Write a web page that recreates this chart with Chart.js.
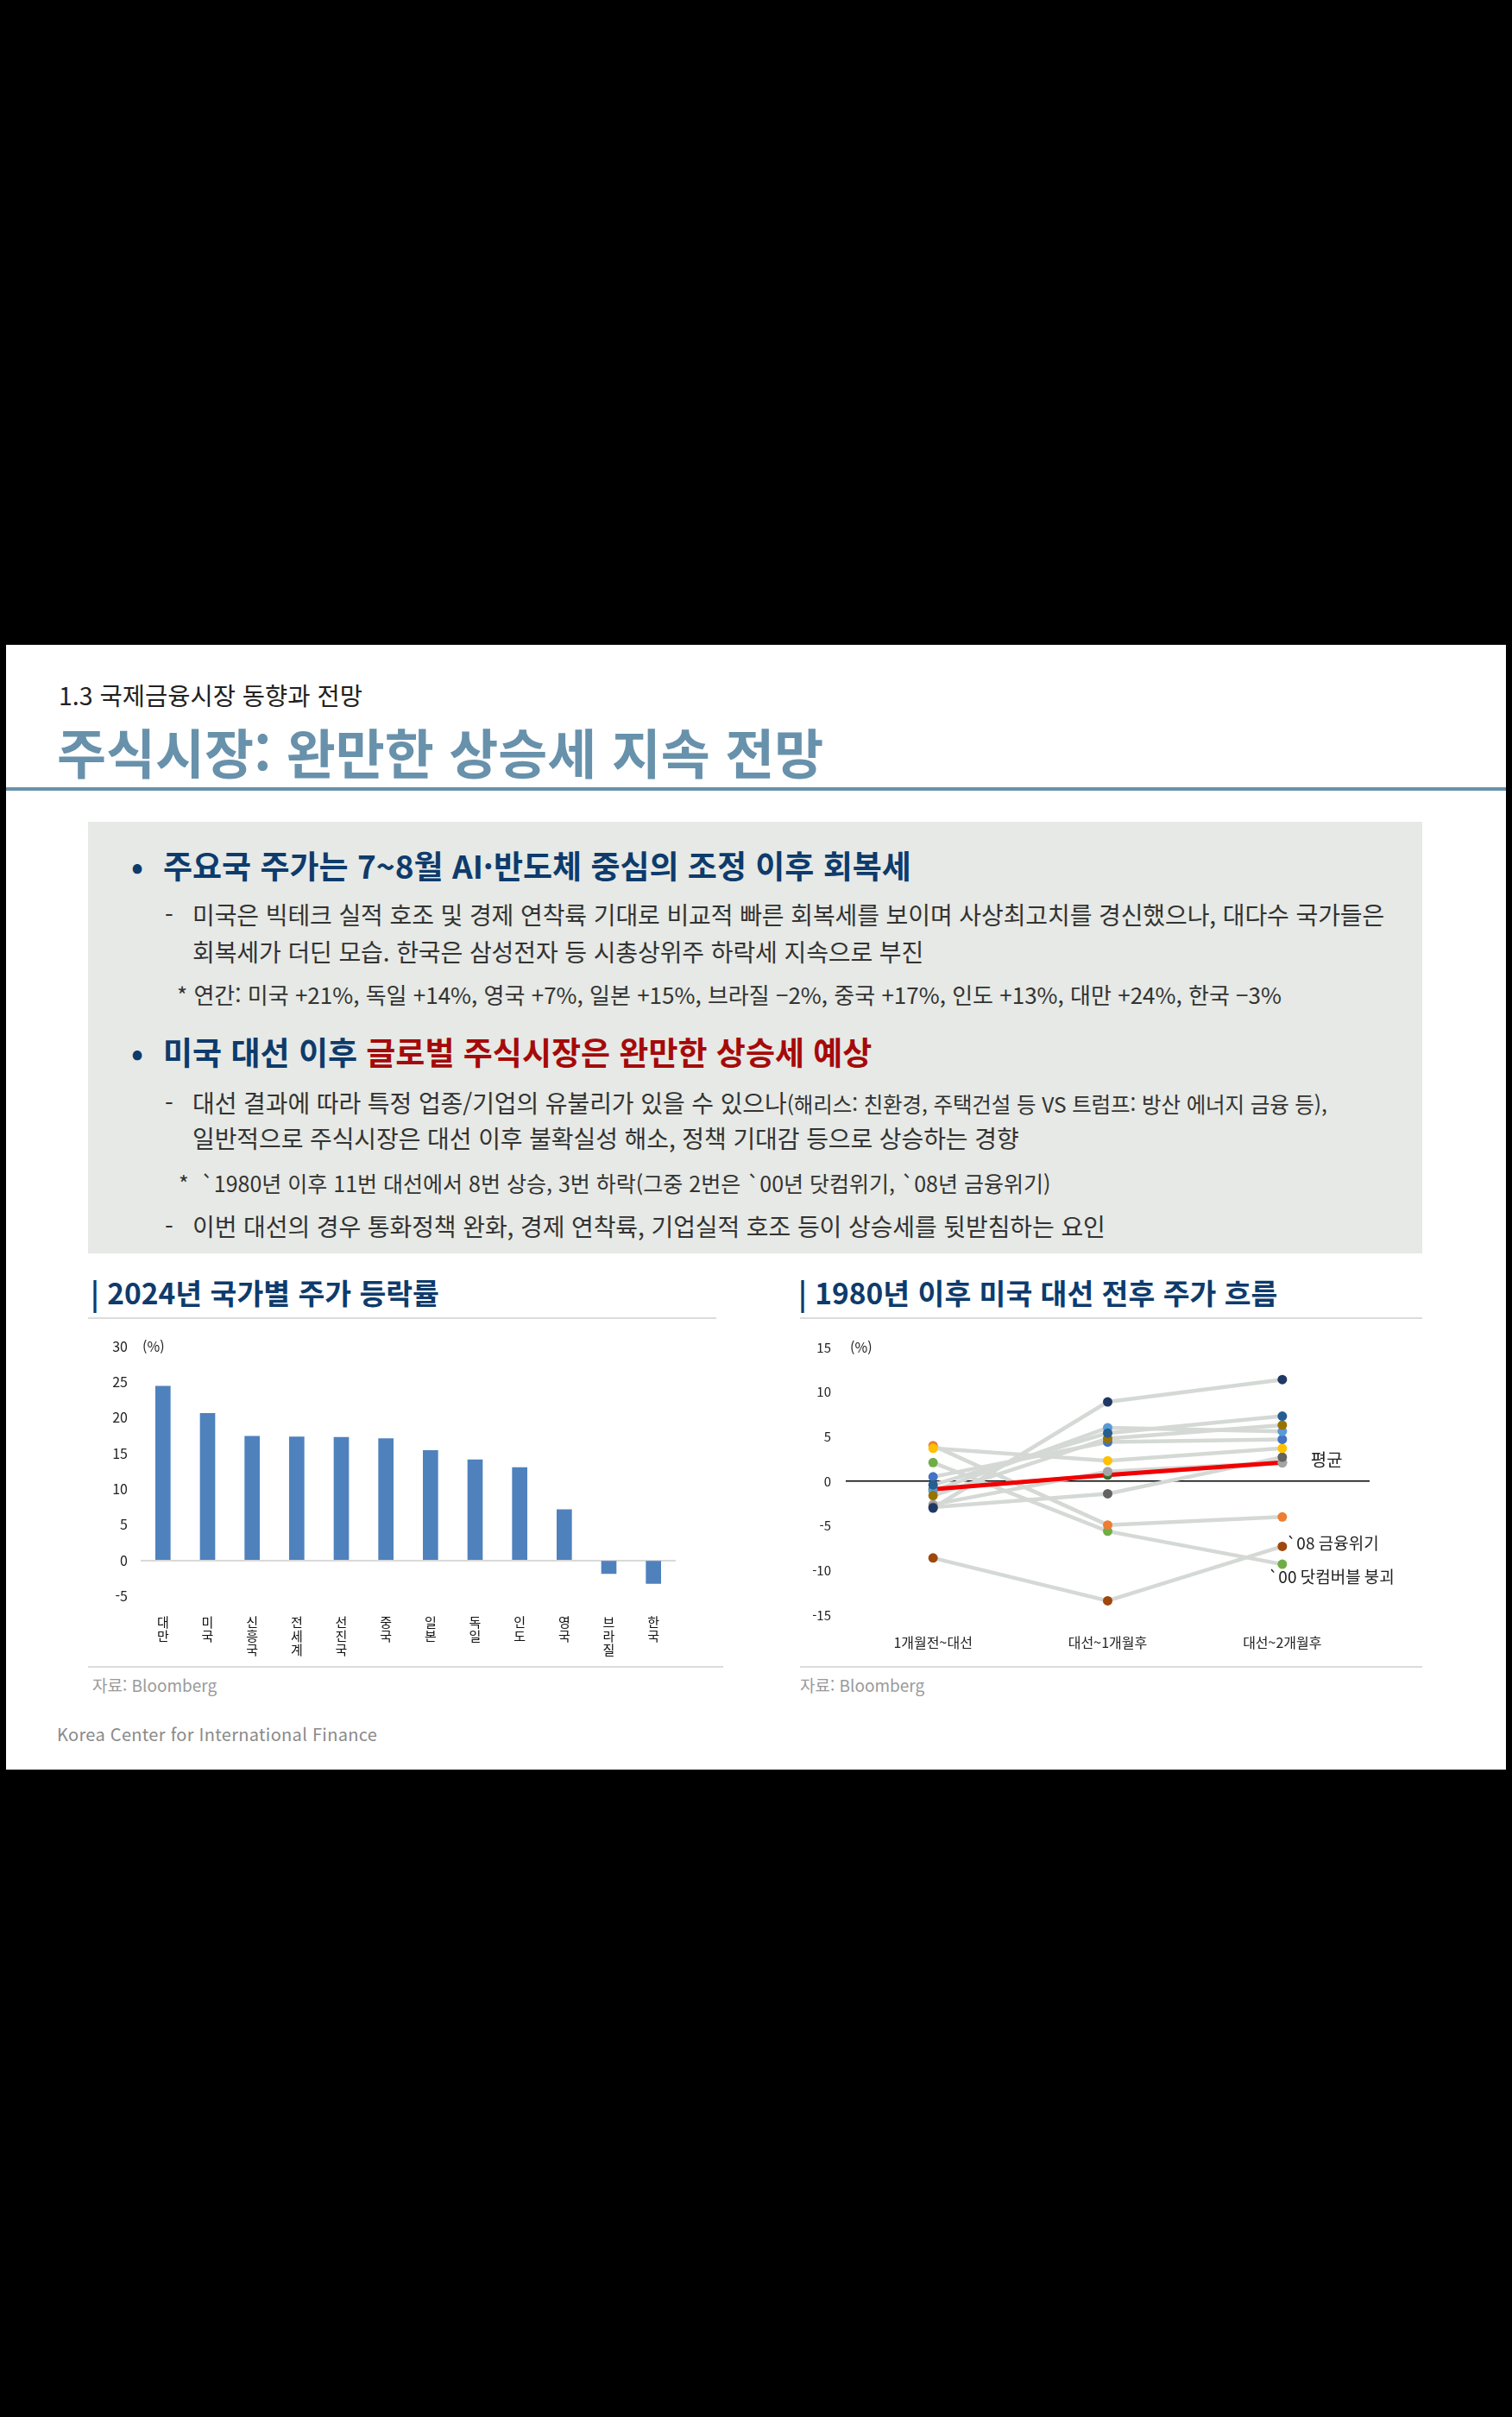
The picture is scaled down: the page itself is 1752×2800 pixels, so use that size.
<!DOCTYPE html>
<html lang="ko">
<head>
<meta charset="utf-8">
<script src="https://cdn.jsdelivr.net/npm/chart.js@4.4.1/dist/chart.umd.min.js"></script>
<style>
  body { margin: 0; width: 1752px; height: 2800px; background: #000; position: relative; overflow: hidden;
         font-family: "Noto Sans CJK KR", "Noto Sans", sans-serif; }
  .slide { position: absolute; left: 7px; top: 747px; width: 1738px; height: 1303px; background: #fff; }
  .t { position: absolute; white-space: nowrap; }
  .navy { color: #0e3b6c; }
  .red { color: #a50a0a; }
  .body { color: #333; font-size: 28px; line-height: 34px; letter-spacing: -0.1px; }
  .note { color: #333; font-size: 26px; line-height: 32px; }
  .small { font-size: 24.5px; }
  .bul { font-size: 37px; line-height: 44px; font-weight: 700; }
  .head { font-size: 33.5px; line-height: 42px; font-weight: 700; color: #0e3b6c; }
  .src { font-size: 19px; line-height: 24px; color: #9a9a9a; }
  canvas { position: absolute; }
</style>
</head>
<body>
<div class="slide"></div>

<div class="t" style="left:68px; top:787px; font-size:28.5px; line-height:36px; color:#222;">1.3 국제금융시장 동향과 전망</div>
<div class="t" style="left:66px; top:832px; font-size:62px; line-height:76px; font-weight:700; color:#6891ab;">주식시장: 완만한 상승세 지속 전망</div>
<div style="position:absolute; left:7px; top:912px; width:1738px; height:4px; background:#6891ab;"></div>

<div style="position:absolute; left:102px; top:952px; width:1546px; height:500px; background:#e6e9e5;"></div>

<div class="t navy bul" style="left:152px; top:980px;">•</div>
<div class="t navy bul" style="left:189px; top:980px;">주요국 주가는 7~8월 AI·반도체 중심의 조정 이후 회복세</div>
<div class="t body" style="left:191px; top:1042px;">-</div>
<div class="t body" style="left:223px; top:1042px;">미국은 빅테크 실적 호조 및 경제 연착륙 기대로 비교적 빠른 회복세를 보이며 사상최고치를 경신했으나, 대다수 국가들은</div>
<div class="t body" style="left:223px; top:1085px;">회복세가 더딘 모습. 한국은 삼성전자 등 시총상위주 하락세 지속으로 부진</div>
<div class="t note" style="left:205px; top:1136px;">* 연간: 미국 +21%, 독일 +14%, 영국 +7%, 일본 +15%, 브라질 −2%, 중국 +17%, 인도 +13%, 대만 +24%, 한국 −3%</div>

<div class="t navy bul" style="left:152px; top:1196px;">•</div>
<div class="t bul" style="left:189px; top:1196px;"><span class="navy">미국 대선 이후 </span><span class="red">글로벌 주식시장은 완만한 상승세 예상</span></div>
<div class="t body" style="left:191px; top:1260px;">-</div>
<div class="t body" style="left:223px; top:1260px;">대선 결과에 따라 특정 업종/기업의 유불리가 있을 수 있으나<span class="small">(해리스: 친환경, 주택건설 등 VS 트럼프: 방산 에너지 금융 등),</span></div>
<div class="t body" style="left:223px; top:1301px;">일반적으로 주식시장은 대선 이후 불확실성 해소, 정책 기대감 등으로 상승하는 경향</div>
<div class="t note" style="left:207px; top:1354px; font-size:25px;">*&nbsp; `1980년 이후 11번 대선에서 8번 상승, 3번 하락(그중 2번은 `00년 닷컴위기, `08년 금융위기)</div>
<div class="t body" style="left:191px; top:1403px;">-</div>
<div class="t body" style="left:223px; top:1403px;">이번 대선의 경우 통화정책 완화, 경제 연착륙, 기업실적 호조 등이 상승세를 뒷받침하는 요인</div>

<div class="t head" style="left:105px; top:1476px;">| 2024년 국가별 주가 등락률</div>
<div style="position:absolute; left:102px; top:1526px; width:728px; height:2px; background:#dcdcdc;"></div>
<div class="t head" style="left:925px; top:1476px;">| 1980년 이후 미국 대선 전후 주가 흐름</div>
<div style="position:absolute; left:927px; top:1526px; width:721px; height:2px; background:#dcdcdc;"></div>

<canvas id="barChart" width="738" height="390" style="left:102px; top:1535px;"></canvas>
<canvas id="lineChart" width="721" height="390" style="left:927px; top:1535px;"></canvas>

<div style="position:absolute; left:102px; top:1930px; width:736px; height:2px; background:#dcdcdc;"></div>
<div style="position:absolute; left:927px; top:1930px; width:721px; height:2px; background:#dcdcdc;"></div>
<div class="t src" style="left:107px; top:1940px;">자료: Bloomberg</div>
<div class="t src" style="left:927px; top:1940px;">자료: Bloomberg</div>

<div class="t" style="left:66px; top:1996px; font-size:20px; line-height:26px; color:#8a8a8a; letter-spacing:0.3px;">Korea Center for International Finance</div>

<script>
// 2024 country returns (%)
const countryNames = ['대만', '미국', '신흥국', '전세계', '선진국', '중국', '일본', '독일', '인도', '영국', '브라질', '한국'];
const returns2024 = [24.4, 20.6, 17.4, 17.3, 17.25, 17.05, 15.4, 14.1, 13.0, 7.1, -1.85, -3.25];
const barTicks = { min: -5, max: 30, step: 5 };

// stock moves around US elections since 1980 (%)
const periods = ['1개월전~대선', '대선~1개월후', '대선~2개월후'];
const pathNavy      = [-3.0, 8.9, 11.4];
const pathTeal      = [-0.4, 5.4, 7.3];
const pathGold      = [-1.6, 4.8, 6.3];
const pathLightBlue = [-1.1, 6.0, 5.6];
const pathBlue      = [0.5, 4.4, 4.7];
const pathYellow    = [3.7, 2.3, 3.7];
const pathDarkGray  = [-2.9, -1.4, 2.7];
const pathGray      = [-2.6, 1.1, 2.1];
const pathDarkGreen = [-0.9, 0.7, 2.1];
const pathOrange    = [4.0, -4.9, -4.0];
const pathGfc08     = [-8.6, -13.4, -7.3];
const pathDotcom00  = [2.1, -5.6, -9.3];
const pathAverage   = [-0.9, 0.7, 2.1];
const lineTicks = { min: -15, max: 15, step: 5 };

const paths = [pathNavy, pathTeal, pathGold, pathLightBlue, pathBlue, pathYellow,
               pathDarkGray, pathGray, pathDarkGreen, pathOrange, pathGfc08, pathDotcom00];
const pathColors = ['#203864', '#255e91', '#997300', '#5b9bd5', '#4472c4', '#ffc000',
                    '#636363', '#a5a5a5', '#43682b', '#ed7d31', '#9e480e', '#70ad47'];

const lineNotes = [
  { text: '평균', value: 2.4, dx: 33, size: 20 },
  { text: '`08 금융위기', value: -6.9, dx: 5, size: 19 },
  { text: '`00 닷컴버블 붕괴', value: -10.7, dx: -16, size: 19 }
];

const FONT = '"Noto Sans CJK KR", "Noto Sans", sans-serif';
Chart.defaults.font.family = FONT;
Chart.defaults.color = '#222';

const notesPlugin = {
  id: 'notes',
  afterDraw(chart, args, opts) {
    const ctx = chart.ctx;
    const y = chart.scales.y, x = chart.scales.x;
    ctx.save();
    ctx.fillStyle = '#222';
    ctx.textBaseline = 'middle';
    ctx.textAlign = 'left';
    ctx.font = '16px ' + FONT;
    ctx.fillText('(%)', chart.chartArea.left + opts.unitDx, y.getPixelForValue(y.max));
    (opts.items || []).forEach(n => {
      ctx.font = n.size + 'px ' + FONT;
      ctx.fillText(n.text, x.getPixelForValue(x.max) + n.dx, y.getPixelForValue(n.value));
    });
    ctx.restore();
  }
};

new Chart(document.getElementById('barChart').getContext('2d'), {
  type: 'bar',
  data: {
    labels: countryNames.map(s => s.split('')),
    datasets: [{
      data: returns2024,
      backgroundColor: '#4f81bd',
      barThickness: 17
    }]
  },
  plugins: [notesPlugin],
  options: {
    responsive: false,
    animation: false,
    layout: { padding: { top: 17, right: 57, left: 0, bottom: 0 } },
    plugins: { legend: { display: false }, tooltip: { enabled: false }, notes: { unitDx: 2 } },
    scales: {
      x: {
        grid: { display: false },
        border: { display: false },
        ticks: { font: { size: 15, lineHeight: 1.07 }, padding: 14, maxRotation: 0, autoSkip: false, color: '#111' },
        afterFit: s => { s.height = 76; }
      },
      y: {
        min: barTicks.min, max: barTicks.max,
        border: { display: false },
        grid: {
          drawTicks: false, lineWidth: 2,
          color: c => c.tick && c.tick.value === 0 ? '#d9d9d9' : 'rgba(0,0,0,0)'
        },
        ticks: { stepSize: barTicks.step, padding: 15, font: { size: 16 } },
        afterFit: s => { s.width = 61; }
      }
    }
  }
});

const lineSets = paths.map(p => ({
  data: p, borderColor: '#d5d9d5', borderWidth: 4.5, pointRadius: 0, order: 3
}));
const pointSets = paths.map((p, i) => ({
  data: p, showLine: false, pointRadius: 5.5, pointBorderWidth: 0,
  pointBackgroundColor: pathColors[i], order: 1
}));

new Chart(document.getElementById('lineChart').getContext('2d'), {
  type: 'line',
  data: {
    labels: periods,
    datasets: lineSets.concat([{
      data: pathAverage, borderColor: '#f00000', borderWidth: 5, pointRadius: 0, order: 2
    }]).concat(pointSets)
  },
  plugins: [notesPlugin],
  options: {
    responsive: false,
    animation: false,
    layout: { padding: { top: 17, right: 61, left: 0, bottom: 0 } },
    plugins: { legend: { display: false }, tooltip: { enabled: false }, notes: { unitDx: 5, items: lineNotes } },
    scales: {
      x: {
        offset: true,
        grid: { display: false },
        border: { display: false },
        ticks: { font: { size: 16 }, padding: 14, color: '#222' },
        afterFit: s => { s.height = 54; }
      },
      y: {
        min: lineTicks.min, max: lineTicks.max,
        border: { display: false },
        grid: {
          drawTicks: false, lineWidth: 1.5,
          color: c => c.tick && c.tick.value === 0 ? '#000' : 'rgba(0,0,0,0)'
        },
        ticks: { stepSize: lineTicks.step, padding: 17, font: { size: 15 } },
        afterFit: s => { s.width = 53; }
      }
    }
  }
});
</script>
</body>
</html>
